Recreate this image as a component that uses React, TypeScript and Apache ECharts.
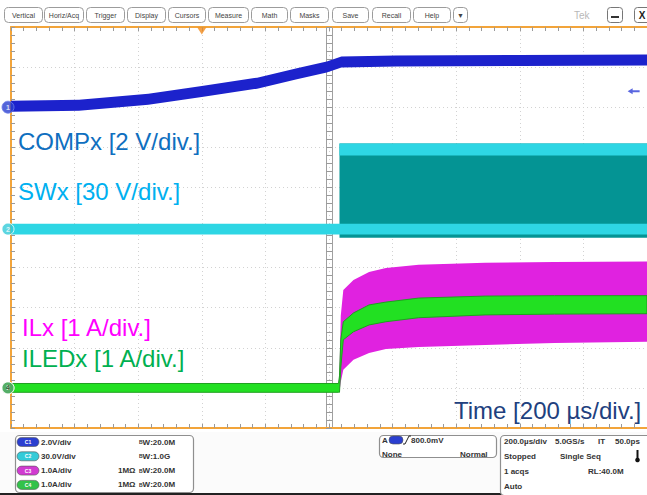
import React, { useEffect, useRef } from "react";
import * as echarts from "echarts";

// ---------- time base & graticule (µs relative to trigger, divisions) ----------
const TIME_MIN = -600;
const TIME_MAX = 1400;
const TIME_PER_DIV = 200;
const DIV_MIN = -5;
const DIV_MAX = 5;

// ---------- channels: units/div and ground position (div) ----------
const CH_NAMES = ["COMPx", "SWx", "ILx", "ILEDx"];
const CH_SCALE = [2, 30, 1, 1];
const CH_POSITION = [3.0, -0.04, -4.0, -4.0];
const TRIG_TIME = 0;
const TRIG_LEVEL = 0.8; // V on C1

// ---------- COMPx (V) ----------
const COMP_T = [-600, -386, -168, 0, 174, 299, 393, 439, 611, 1000, 1400];
const COMP_V = [0.05, 0.1, 0.4, 0.78, 1.2, 1.67, 2.0, 2.25, 2.3, 2.33, 2.35];
const COMP_PP = 0.55;

// ---------- SWx (V) ----------
const SW_BASE_T = [-600, 1400];
const SW_BASE_LO = [-4, -4];
const SW_BASE_HI = [4, 4];
const SW_ON_T = [433, 1400];
const SW_FILL_LO = [-6.5, -6.5];
const SW_FILL_HI = [64, 64];
const SW_HIGH_LO = [55, 55];
const SW_HIGH_HI = [64, 64];

// ---------- ILx / ILEDx (A) ----------
const I_T = [-600, 430, 433, 437, 445, 477, 526, 579, 682, 891, 1109, 1400];
const IL_HI = [0.1, 0.1, 0.4, 1.8, 2.44, 2.69, 2.89, 2.99, 3.07, 3.12, 3.14, 3.15];
const IL_LO = [-0.1, -0.1, -0.1, 0.15, 0.45, 0.7, 0.87, 0.97, 1.02, 1.07, 1.12, 1.15];
const ILED_HI = [0.11, 0.11, 0.3, 1.2, 1.65, 1.87, 2.07, 2.14, 2.24, 2.29, 2.3, 2.3];
const ILED_LO = [-0.11, -0.11, -0.11, 0.5, 1.2, 1.4, 1.57, 1.65, 1.75, 1.82, 1.84, 1.85];

// ---------- texts ----------
const LABELS = ["COMPx [2 V/div.]", "SWx [30 V/div.]", "ILx [1 A/div.]", "ILEDx [1 A/div.]"];
const TIME_LABEL = "Time [200 µs/div.]";
const MENU = ["Vertical", "Horiz/Acq", "Trigger", "Display", "Cursors", "Measure", "Math", "Masks", "Save", "Recall", "Help", "▼"];
const CH_TAGS = ["C1", "C2", "C3", "C4"];
const CH_VDIV = ["2.0V/div", "30.0V/div", "1.0A/div", "1.0A/div"];
const CH_IMP = ["", "", "1MΩ", "1MΩ"];
const CH_BW = ["20.0M", "1.0G", "20.0M", "20.0M"];
const TRIG_TEXT = ["A", "800.0mV", "None", "Normal"];
const ACQ_TEXT = [
  ["200.0µs/div", "5.0GS/s", "IT", "50.0ps"],
  ["Stopped", "Single Seq"],
  ["1 acqs", "RL:40.0M"],
  ["Auto"],
];

// ---------- layout / style ----------
const MENU_X = [4, 44, 86, 127, 168, 208, 251, 290, 332, 372, 413, 453];
const MENU_W = [38, 39, 38, 38, 37, 40, 36, 38, 36, 38, 37, 14];
const TRACE_COL = ["#1c22cc", "#2ed6e4", "#e022e0", "#22e022"];
const LABEL_COL = ["#0f6fbf", "#00b0f0", "#ff00ff", "#00b050"];
const TAG_COL = ["#2b3fd0", "#33cbd8", "#d13bd1", "#33c24a"];
const LABEL_Y = [141, 191, 327, 358];
const LABEL_X = [18, 18, 22, 22];
const FONT = '"Liberation Sans", Arial, sans-serif';

const toDiv = (ch: number, v: number) => v / CH_SCALE[ch] + CH_POSITION[ch];

function band(name: string, ch: number, t: number[], lo: number[], hi: number[], fill: string, stroke = "none", z = 2) {
  return {
    type: "custom",
    name,
    silent: true,
    clip: false,
    z,
    xAxisIndex: 0,
    yAxisIndex: 0,
    data: t.map((x, i) => [x, toDiv(ch, lo[i]), toDiv(ch, hi[i])]),
    encode: { x: 0, y: [1, 2] },
    renderItem: (params: any, api: any) => {
      if (params.dataIndex !== 0) return null;
      const top = t.map((x, i) => api.coord([x, toDiv(ch, hi[i])]));
      const bot = t.map((x, i) => api.coord([x, toDiv(ch, lo[i])])).reverse();
      return {
        type: "polygon",
        shape: { points: top.concat(bot) },
        style: { fill, stroke, lineWidth: 1 },
      };
    },
  };
}

const tickStyle = { color: "#9a9a9a", width: 1 };
const borderLine = { show: true, onZero: false, lineStyle: { color: "#f2a43a", width: 2 } };
const centerLine = { show: true, onZero: false, lineStyle: { color: "#a0a0a0", width: 1 } };
const gridSplit = { show: true, lineStyle: { color: "#d2d2d2", width: 1, type: [1, 3] } };

function xAx(position: string, line: any, inside: boolean, offset: number, split: boolean, len: number) {
  return {
    type: "value",
    min: TIME_MIN,
    max: TIME_MAX,
    interval: TIME_PER_DIV,
    position,
    offset,
    axisLine: line,
    axisTick: { show: true, inside, length: len, lineStyle: tickStyle },
    minorTick: { show: true, splitNumber: 5, length: len, lineStyle: tickStyle },
    splitLine: split ? gridSplit : { show: false },
    minorSplitLine: { show: false },
    axisLabel: { show: false },
  };
}
function yAx(position: string, line: any, inside: boolean, offset: number, split: boolean, len: number) {
  return {
    type: "value",
    min: DIV_MIN,
    max: DIV_MAX,
    interval: 1,
    position,
    offset,
    axisLine: line,
    axisTick: { show: true, inside, length: len, lineStyle: tickStyle },
    minorTick: { show: true, splitNumber: 5, length: len, lineStyle: tickStyle },
    splitLine: split ? gridSplit : { show: false },
    minorSplitLine: { show: false },
    axisLabel: { show: false },
  };
}

function txt(text: string, x: number, y: number, size: number, fill: string, opts: any = {}) {
  return {
    type: "text",
    x,
    y,
    z: 20,
    silent: true,
    style: {
      text,
      fill,
      font: `${opts.bold ? "bold " : ""}${size}px ${FONT}`,
      align: opts.align || "left",
      verticalAlign: opts.va || "middle",
      rich: opts.rich,
    },
  };
}

function buildGraphic() {
  const g: any[] = [];
  // top menu bar
  MENU.forEach((m, i) => {
    g.push({
      type: "rect",
      z: 10,
      shape: { x: MENU_X[i] + 0.5, y: 7.5, width: MENU_W[i], height: 15, r: 4 },
      style: { fill: "#ffffff", stroke: "#9c9c9c", lineWidth: 1 },
    });
    g.push(txt(m, MENU_X[i] + MENU_W[i] / 2 + 0.5, 15, 7, "#444", { align: "center" }));
  });
  g.push(txt("Tek", 574, 15, 10, "#b8b8b8"));
  g.push({ type: "rect", z: 10, shape: { x: 607.5, y: 7.5, width: 15, height: 15, r: 3 }, style: { fill: "#fff", stroke: "#777", lineWidth: 1 } });
  g.push({ type: "rect", z: 11, shape: { x: 611, y: 16, width: 8, height: 2 }, style: { fill: "#333" } });
  g.push({ type: "rect", z: 10, shape: { x: 634.5, y: 7.5, width: 16, height: 15, r: 3 }, style: { fill: "#fff", stroke: "#777", lineWidth: 1 } });
  g.push(txt("X", 642, 15.5, 10, "#222", { align: "center", bold: true }));

  // waveform labels
  LABELS.forEach((l, i) => g.push(txt(l, LABEL_X[i], LABEL_Y[i], 24, LABEL_COL[i])));
  g.push(txt(TIME_LABEL, 454, 410, 24, "#21407e"));

  // bottom panel
  g.push({ type: "rect", z: 9, shape: { x: 0, y: 432, width: 647, height: 63 }, style: { fill: "#fbfbfb" } });
  g.push({ type: "rect", z: 9, shape: { x: 0, y: 493, width: 647, height: 2 }, style: { fill: "#222" } });
  // channel box
  g.push({ type: "rect", z: 10, shape: { x: 15.5, y: 435.5, width: 178, height: 57, r: 4 }, style: { fill: "#fff", stroke: "#8f8f8f", lineWidth: 1.2 } });
  CH_TAGS.forEach((c, i) => {
    const y = 442 + i * 14.3;
    g.push({ type: "rect", z: 11, shape: { x: 17, y: y - 4.5, width: 22, height: 9, r: 4.5 }, style: { fill: TAG_COL[i], stroke: "#555", lineWidth: 0.6 } });
    g.push(txt(c, 28, y, 5, "#fff", { align: "center", bold: true }));
    g.push(txt(CH_VDIV[i], 41, y, 8, "#333", { bold: true }));
    if (CH_IMP[i]) g.push(txt(CH_IMP[i], 118, y, 8, "#333", { bold: true }));
    g.push(
      txt(`{b|B}{w|W}{n|:${CH_BW[i]}}`, 139, y, 8, "#333", {
        bold: true,
        rich: {
          b: { fontSize: 5, fontWeight: "bold", fill: "#333", fontFamily: "Liberation Sans" },
          w: { fontSize: 8, fontWeight: "bold", fill: "#333", fontFamily: "Liberation Sans" },
          n: { fontSize: 8, fontWeight: "bold", fill: "#333", fontFamily: "Liberation Sans" },
        },
      })
    );
  });
  // trigger box
  g.push({ type: "rect", z: 10, shape: { x: 379.5, y: 435.5, width: 117, height: 22, r: 4 }, style: { fill: "#fff", stroke: "#8f8f8f", lineWidth: 1.2 } });
  g.push(txt(TRIG_TEXT[0], 382, 440, 8, "#333", { bold: true }));
  g.push({ type: "rect", z: 11, shape: { x: 389, y: 436, width: 14, height: 8, r: 4 }, style: { fill: TAG_COL[0], stroke: "#555", lineWidth: 0.6 } });
  g.push({ type: "polyline", z: 11, shape: { points: [[403, 444], [405, 444], [409, 436], [411, 436]] }, style: { stroke: "#222", lineWidth: 1, fill: "none" } });
  g.push(txt(TRIG_TEXT[1], 411, 440, 8, "#333", { bold: true }));
  g.push(txt(TRIG_TEXT[2], 382, 454, 8, "#333", { bold: true }));
  g.push(txt(TRIG_TEXT[3], 460, 454, 8, "#333", { bold: true }));
  // acquisition box
  g.push({ type: "rect", z: 10, shape: { x: 500.5, y: 435.5, width: 150, height: 60, r: 4 }, style: { fill: "#fff", stroke: "#8f8f8f", lineWidth: 1.2 } });
  const acqX = [[504, 555, 598, 615], [504, 560], [504, 588], [504]];
  ACQ_TEXT.forEach((row, r) =>
    row.forEach((s, c) => g.push(txt(s, acqX[r][c], 441 + r * 15, 8, "#333", { bold: true })))
  );
  g.push({ type: "rect", z: 11, shape: { x: 636.5, y: 450, width: 2, height: 9 }, style: { fill: "#111" } });
  g.push({ type: "circle", z: 11, shape: { cx: 637.5, cy: 460, r: 2.3 }, style: { fill: "#111" } });
  return g;
}

function buildOption() {
  const markerData = CH_NAMES.map((_, i) => ({
    value: [TIME_MIN, CH_POSITION[i]],
    itemStyle: { color: TAG_COL[i], borderColor: i === 0 ? "#6e7ee8" : "#ffffff", borderWidth: 1 },
    label: { show: true, formatter: String(i + 1), color: i === 3 ? "#224422" : "#ffffff", fontSize: 7, fontWeight: "bold" },
  }));
  const order = [2, 3, 1, 0]; // C4 above C3

  return {
    animation: false,
    backgroundColor: "#ffffff",
    grid: { left: 11, top: 27, right: -6, bottom: 67, containLabel: false },
    xAxis: [
      xAx("bottom", borderLine, true, 0, true, 4),
      xAx("top", borderLine, true, 0, false, 4),
      xAx("bottom", centerLine, false, -200.5, false, 3),
      xAx("top", centerLine, false, -200.5, false, 3),
    ],
    yAxis: [
      yAx("left", borderLine, true, 0, true, 4),
      yAx("left", centerLine, false, -321, false, 3),
      yAx("right", centerLine, false, -321, false, 3),
    ],
    series: [
      band("SWx switching", 1, SW_ON_T, SW_FILL_LO, SW_FILL_HI, "#049494"),
      band("SWx high", 1, SW_ON_T, SW_HIGH_LO, SW_HIGH_HI, TRACE_COL[1]),
      band("SWx base", 1, SW_BASE_T, SW_BASE_LO, SW_BASE_HI, TRACE_COL[1]),
      band("COMPx", 0, COMP_T, COMP_V.map((v) => v - COMP_PP / 2), COMP_V.map((v) => v + COMP_PP / 2), TRACE_COL[0]),
      band("ILx", 2, I_T, IL_LO, IL_HI, TRACE_COL[2]),
      band("ILEDx", 3, I_T, ILED_LO, ILED_HI, TRACE_COL[3], "#1fa01f"),
      {
        type: "scatter",
        name: "ground markers",
        silent: true,
        clip: false,
        z: 6,
        symbol: "circle",
        symbolSize: 12,
        symbolOffset: [-3, 0],
        data: order.map((i) => markerData[i]),
      },
      {
        type: "scatter",
        name: "trigger position",
        silent: true,
        clip: false,
        z: 6,
        symbol: "triangle",
        symbolRotate: 180,
        symbolSize: [9, 7],
        symbolOffset: [0, 4],
        itemStyle: { color: "#f08a1c" },
        data: [[TRIG_TIME, DIV_MAX]],
      },
      {
        type: "scatter",
        name: "trigger level",
        silent: true,
        clip: false,
        z: 6,
        symbol: "path://M0,3 L5,0 L5,2 L12,2 L12,4 L5,4 L5,6 Z",
        symbolSize: [12, 6],
        itemStyle: { color: "#3040d8" },
        data: [[1358, toDiv(0, TRIG_LEVEL)]],
      },
    ],
    graphic: buildGraphic(),
  };
}

export default function App() {
  const ref = useRef<HTMLDivElement>(null);
  useEffect(() => {
    const chart = echarts.init(ref.current!, null, { renderer: "svg" });
    chart.setOption(buildOption() as any);
    return () => chart.dispose();
  }, []);
  return <div ref={ref} style={{ position: "absolute", left: 0, top: 0, width: 647, height: 495, overflow: "hidden" }} />;
}
